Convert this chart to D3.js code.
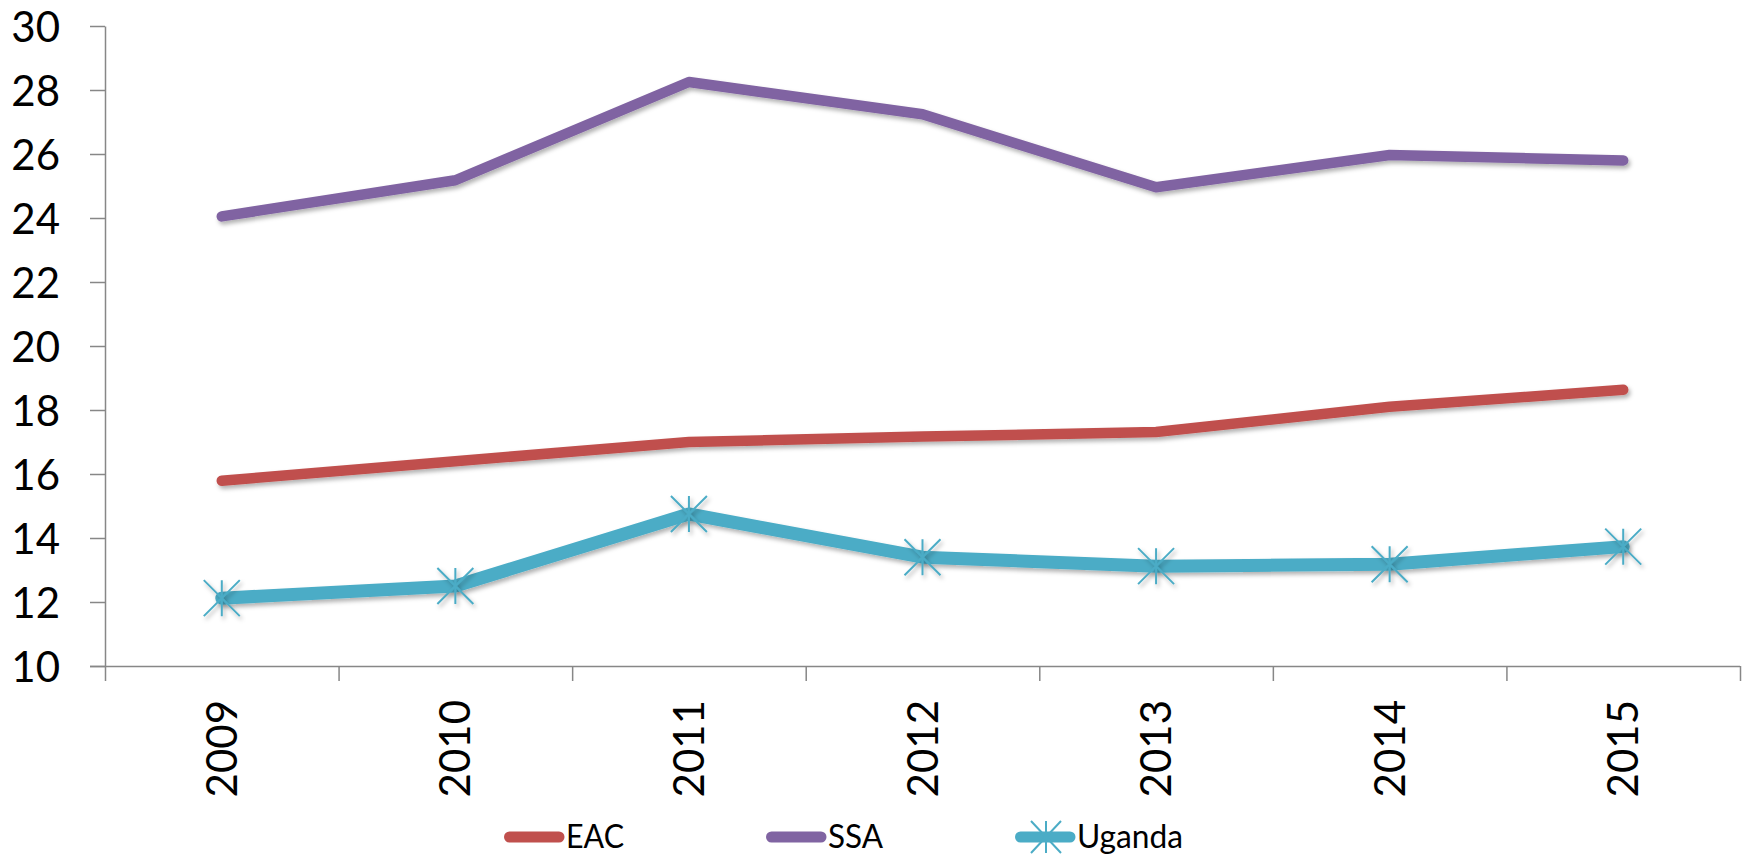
<!DOCTYPE html>
<html>
<head>
<meta charset="utf-8">
<script src="https://cdn.jsdelivr.net/npm/d3@7"></script>
<style>
  html, body { margin: 0; padding: 0; background: #fff; }
  svg { display: block; }
  text { font-family: Lato, "Open Sans", sans-serif; fill: #000; }
</style>
</head>
<body>
<svg id="chart" width="1746" height="858"></svg>
<script>
const years = ["2009", "2010", "2011", "2012", "2013", "2014", "2015"];
const eacValues = [15.79, 16.4, 17.0, 17.17, 17.31, 18.1, 18.63];
const ssaValues = [24.05, 25.18, 28.25, 27.24, 24.96, 25.97, 25.80];
const ugandaValues = [12.12, 12.5, 14.75, 13.4, 13.12, 13.18, 13.73];
const yTicks = [10, 12, 14, 16, 18, 20, 22, 24, 26, 28, 30];
const seriesNames = ["EAC", "SSA", "Uganda"];
const seriesColors = ["#C0504D", "#8064A2", "#4BACC6"];

const svg = d3.select("#chart");
const plotL = 105, plotR = 1740, plotT = 26, plotB = 666;

const defs = svg.append("defs");
const f = defs.append("filter").attr("id", "shadow")
  .attr("x", "-10%").attr("y", "-10%").attr("width", "120%").attr("height", "140%");
f.append("feDropShadow").attr("dx", 2).attr("dy", 3).attr("stdDeviation", 2)
  .attr("flood-color", "#000").attr("flood-opacity", 0.3);

const x = d3.scaleBand().domain(years).range([plotL, plotR]).padding(0);
const xEdges = d3.scaleLinear().domain([0, years.length]).range([plotL, plotR]);
const y = d3.scaleLinear().domain([10, 30]).range([plotB, plotT]);

// Y axis
const yAxis = svg.append("g").attr("transform", `translate(${plotL},0)`)
  .call(d3.axisLeft(y).tickValues(yTicks).tickSize(15).tickSizeOuter(0).tickPadding(30));
yAxis.selectAll("path, line").attr("stroke", "#878787").attr("stroke-width", 1.5);
yAxis.selectAll("text").style("font-size", "42px").attr("dy", "0.36em")
  .style("font-family", "Lato, sans-serif").attr("fill", "#000");

// X axis boundary ticks
const xTickAxis = svg.append("g").attr("transform", `translate(0,${plotB})`)
  .call(d3.axisBottom(xEdges).tickValues(d3.range(years.length + 1)).tickSize(15)
    .tickSizeOuter(0).tickFormat(""));
xTickAxis.selectAll("path, line").attr("stroke", "#878787").attr("stroke-width", 1.5);
xTickAxis.select("path.domain").attr("d", `M${plotL - 15},0.5H${plotR}`);

// X labels
const xLabelAxis = svg.append("g").attr("transform", `translate(0,${plotB})`)
  .call(d3.axisBottom(x).tickSize(0).tickSizeOuter(0));
xLabelAxis.select("path.domain").remove();
xLabelAxis.selectAll("text")
  .style("font-size", "42px").style("font-family", "Lato, sans-serif").attr("fill", "#000")
  .attr("text-anchor", "end")
  .attr("transform", "translate(0,34) rotate(-90)")
  .attr("x", 0).attr("y", 0).attr("dy", "0.36em");

// Lines
const line = d3.line().x((d, i) => x(years[i]) + x.bandwidth() / 2).y(d => y(d));
const allSeries = [eacValues, ssaValues, ugandaValues];
const widths = [10.5, 10.5, 13];
allSeries.forEach((vals, k) => {
  svg.append("path").datum(vals)
    .attr("d", line)
    .attr("fill", "none")
    .attr("stroke", seriesColors[k])
    .attr("stroke-width", widths[k])
    .attr("stroke-linecap", "round")
    .attr("stroke-linejoin", "round")
    .attr("filter", "url(#shadow)");
});

// Asterisk markers for Uganda
function asterisk(g, cx, cy, w, h, color) {
  const hw = w / 2, hh = h / 2;
  const p = `M${cx},${cy - hh}V${cy + hh}M${cx - hw},${cy - hh}L${cx + hw},${cy + hh}M${cx - hw},${cy + hh}L${cx + hw},${cy - hh}`;
  g.append("path").attr("d", p).attr("stroke", color).attr("stroke-width", 2).attr("fill", "none");
}
const markers = svg.append("g").attr("filter", "url(#shadow)");
ugandaValues.forEach((v, i) => {
  asterisk(markers, x(years[i]) + x.bandwidth() / 2, y(v), 36, 36, seriesColors[2]);
});

// Legend
const legendX = [504, 766, 1015];
const legendTextW = [58, 55, 106];
const ly = 837;
const legend = svg.append("g");
seriesNames.forEach((name, k) => {
  legend.append("line")
    .attr("x1", legendX[k] + 5.5).attr("x2", legendX[k] + 55)
    .attr("y1", ly).attr("y2", ly)
    .attr("stroke", seriesColors[k]).attr("stroke-width", 11).attr("stroke-linecap", "round");
  if (k === 2) asterisk(legend, legendX[k] + 31, ly, 30, 32, seriesColors[k]);
  legend.append("text")
    .attr("x", legendX[k] + 62).attr("y", 848)
    .attr("textLength", legendTextW[k]).attr("lengthAdjust", "spacingAndGlyphs")
    .style("font-size", "33px").text(name);
});
</script>
</body>
</html>
